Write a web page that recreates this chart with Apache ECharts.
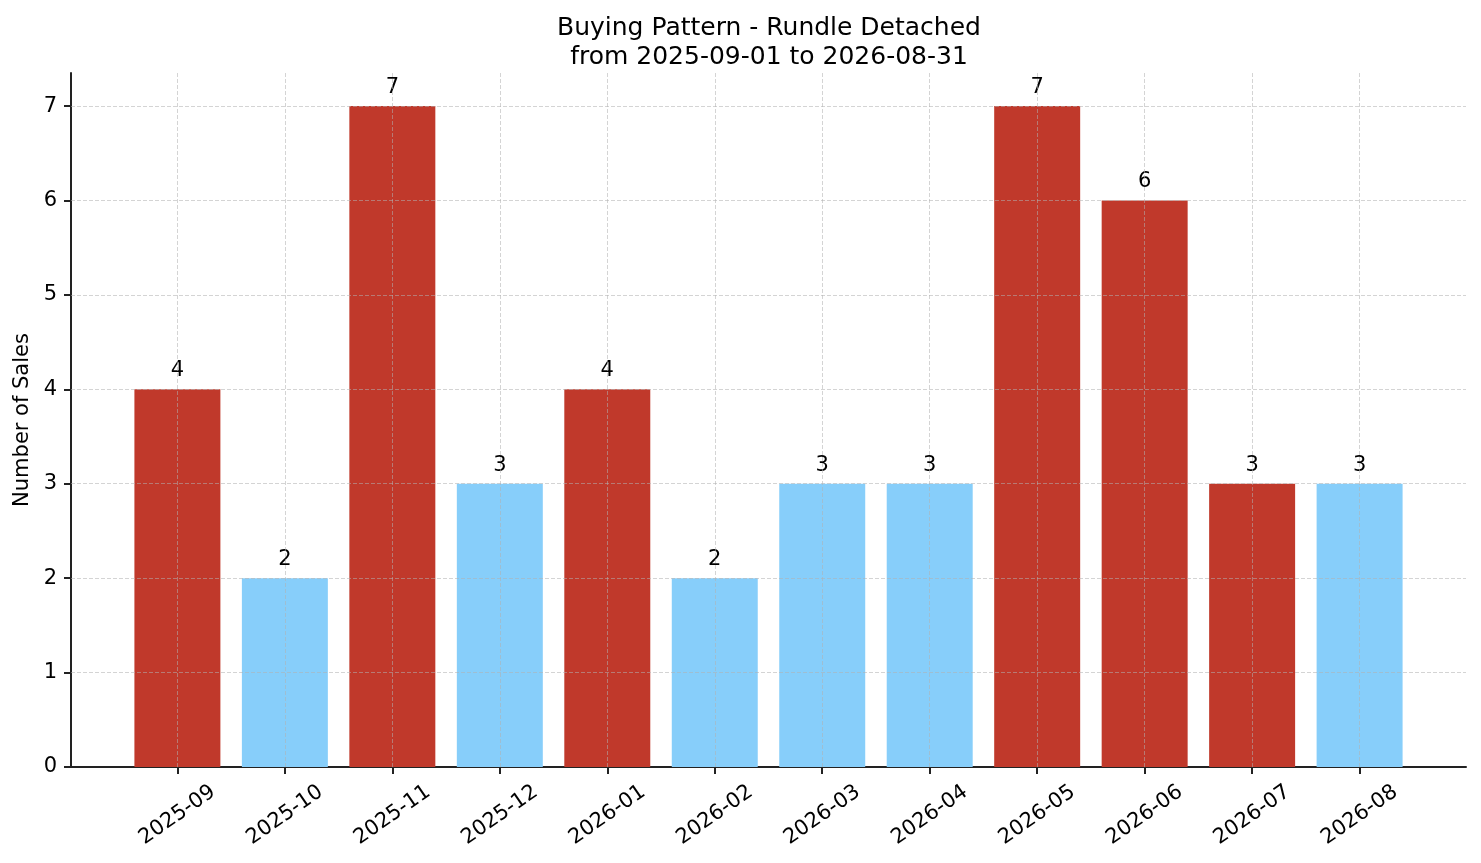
<!DOCTYPE html>
<html>
<head>
<meta charset="utf-8">
<script src="https://cdn.jsdelivr.net/npm/echarts@6/dist/echarts.min.js"></script>
<style>
  html, body { margin: 0; padding: 0; background: #fff; }
  #chart { width: 1481px; height: 863px; }
</style>
</head>
<body>
<div id="chart"></div>
<script>
// months on the x axis
var months = ['2025-09', '2025-10', '2025-11', '2025-12', '2026-01', '2026-02',
              '2026-03', '2026-04', '2026-05', '2026-06', '2026-07', '2026-08'];
// number of sales per month
var sales = [4, 2, 7, 3, 4, 2, 3, 3, 7, 6, 3, 3];
// 1 = highlighted month (red bar), 0 = normal (blue bar)
var flagged = [1, 0, 1, 0, 1, 0, 0, 0, 1, 1, 1, 0];
// y tick values
var yTicks = [0, 1, 2, 3, 4, 5, 6, 7];

var RED = '#c0392b';
var BLUE = '#87cefa';
var FONT = 'DejaVu Sans';

var chart = echarts.init(document.getElementById('chart'), null, { renderer: 'canvas' });

var barData = sales.map(function (v, i) {
  return { value: [i, v], itemStyle: { color: flagged[i] ? RED : BLUE } };
});

var xIdx = months.map(function (m, i) { return i; });

// grid lines drawn on top of the bars, like the original
var gridLines = [];
yTicks.slice(1).forEach(function (t) { gridLines.push({ yAxis: t }); });
xIdx.forEach(function (t) { gridLines.push({ xAxis: t }); });

var option = {
  animation: false,
  backgroundColor: '#fff',
  title: {
    text: 'Buying Pattern - Rundle Detached\nfrom 2025-09-01 to 2026-08-31',
    left: 764,
    top: 9,
    textAlign: 'center',
    textStyle: {
      fontFamily: FONT,
      fontSize: 25,
      fontWeight: 'normal',
      color: '#000',
      lineHeight: 29
    }
  },
  grid: { left: 71, right: 15, top: 73, bottom: 96 },
  xAxis: {
    type: 'value',
    min: -0.99,
    max: 11.99,
    axisLine: { show: true, onZero: false, lineStyle: { color: '#222', width: 2 } },
    axisTick: { show: true, customValues: xIdx, length: 7, lineStyle: { color: '#222', width: 2 } },
    axisLabel: {
      customValues: xIdx,
      formatter: function (v) { return months[Math.round(v)] || ''; },
      rotate: 35,
      align: 'center',
      verticalAlign: 'middle',
      margin: 48,
      fontFamily: FONT,
      fontSize: 21,
      color: '#000'
    },
    splitLine: { show: false }
  },
  yAxis: {
    type: 'value',
    min: 0,
    max: 7.35,
    interval: 1,
    name: 'Number of Sales',
    nameLocation: 'middle',
    nameGap: 36,
    nameTextStyle: { fontFamily: FONT, fontSize: 21, color: '#000' },
    axisLine: { show: true, onZero: false, lineStyle: { color: '#222', width: 2 } },
    axisTick: { show: true, customValues: yTicks, length: 7, lineStyle: { color: '#222', width: 2 } },
    axisLabel: {
      customValues: yTicks,
      margin: 14,
      fontFamily: FONT,
      fontSize: 21,
      color: '#000'
    },
    splitLine: { show: false }
  },
  series: [{
    type: 'bar',
    barWidth: '80%',
    data: barData,
    label: {
      show: true,
      position: 'top',
      distance: 8,
      formatter: function (p) { return p.value[1]; },
      fontFamily: FONT,
      fontSize: 21,
      color: '#000'
    },
    markLine: {
      silent: true,
      symbol: ['none', 'none'],
      label: { show: false },
      lineStyle: { color: '#b0b0b0', opacity: 0.55, width: 1, type: [4, 2] },
      emphasis: { disabled: true },
      data: gridLines
    }
  }]
};

chart.setOption(option);
</script>
</body>
</html>
